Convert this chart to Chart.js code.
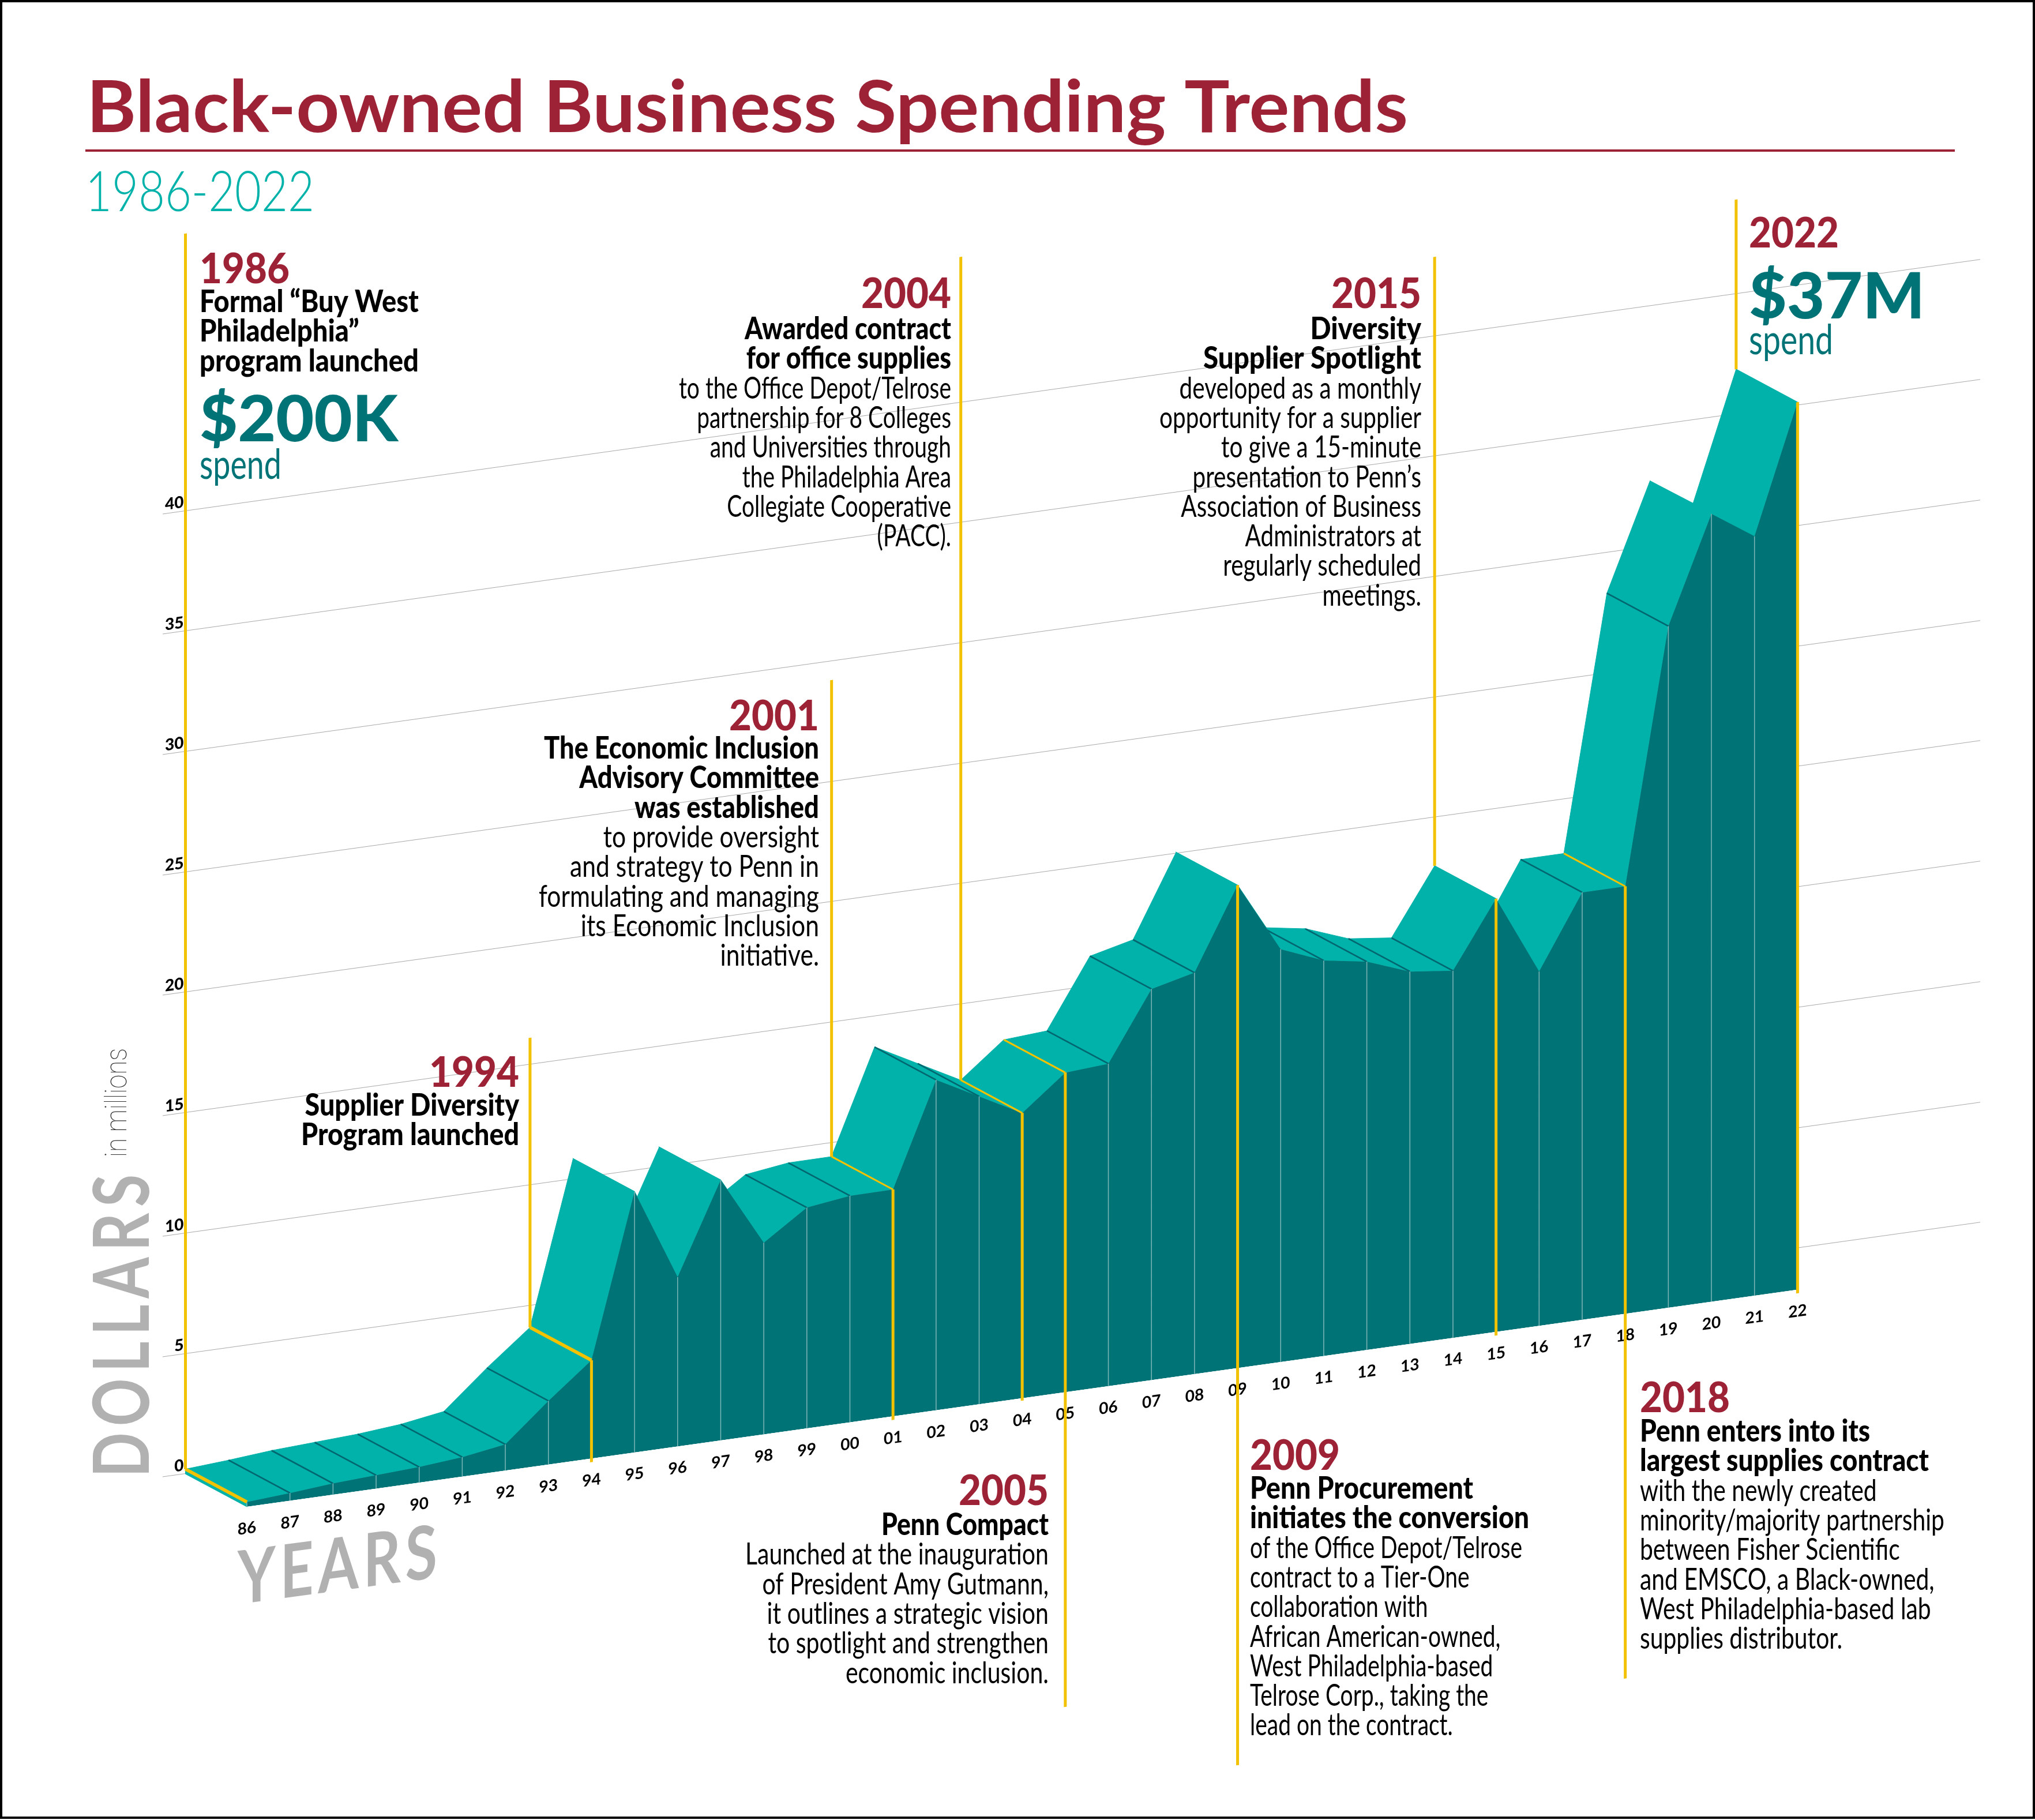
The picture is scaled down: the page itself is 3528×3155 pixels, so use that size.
<!DOCTYPE html>
<html>
<head>
<meta charset="utf-8">
<style>
  html, body { margin: 0; padding: 0; background: #fff; }
  canvas { display: block; }
</style>
<script src="https://cdn.jsdelivr.net/npm/chart.js@4"></script>
</head>
<body>
<canvas id="myChart" width="3528" height="3155"></canvas>
<script>
const years = ["86","87","88","89","90","91","92","93","94","95","96","97","98","99","00","01","02","03","04","05","06","07","08","09","10","11","12","13","14","15","16","17","18","19","20","21","22"];

const spend = [0.2,0.32,0.47,0.56,0.65,0.81,1.09,2.65,4.09,10.86,7.05,10.84,7.98,9.19,9.43,9.44,13.75,12.81,11.87,13.3,13.42,16.28,16.71,20.1,17.18,16.46,16.16,15.5,15.28,18.03,14.75,17.79,17.79,28.37,32.79,31.61,36.94];

const dollarTicks = [0,5,10,15,20,25,30,35,40];

// years whose fold across the ribbon shows as a dark line
const foldYears = ["87","88","89","90","91","92","93","99","00","02","03","06","07","08","11","12","13","14","17","19"];

// leader lines: how far each runs, in dollars on the front plane
const leaderYears = ["86","94","01","04","05","09","15","18","22"];
const leaderBackTop = [53.35,17.87,31,47.86,null,null,45.1,null,45.73];
const leaderFrontEnd = [null,-0.15,-0.15,-0.1,-13.1,-16.53,-0.15,-15.18,-0.15];
const leaderAcrossThick = ["86","94"];
const leaderAcrossThin = ["01","04","05","18"];

const RED = "#9d2235", TEAL = "#00b2a9", DARK = "#007377", YELLOW = "#f2c200", GREY = "#b1b1b1";

// ribbon depth, in years and dollars
const depthX = -1.426;
const depthY = 1.727;
const shear = -0.14;
const shearOrigin = 428;

const callouts = [
  { year: "1986", x: 346, align: "left", yearY: 491, textY: 541, boldW: 380, bold: ["Formal “Buy West", "Philadelphia”", "program launched"] },
  { year: "1994", x: 900, align: "right", yearY: 1884, textY: 1934, boldW: 378, bold: ["Supplier Diversity", "Program launched"] },
  { year: "2001", x: 1420, align: "right", yearY: 1266, textY: 1315, boldW: 477, bodyW: 486,
    bold: ["The Economic Inclusion", "Advisory Committee", "was established"],
    body: ["to provide oversight", "and strategy to Penn in", "formulating and managing", "its Economic Inclusion", "initiative."] },
  { year: "2004", x: 1649, align: "right", yearY: 534, textY: 588, boldW: 358, bodyW: 472,
    bold: ["Awarded contract", "for office supplies"],
    body: ["to the Office Depot/Telrose", "partnership for 8 Colleges", "and Universities through", "the Philadelphia Area", "Collegiate Cooperative", "(PACC)."] },
  { year: "2005", x: 1818, align: "right", yearY: 2609, textY: 2661, boldW: 290, bodyW: 526,
    bold: ["Penn Compact"],
    body: ["Launched at the inauguration", "of President Amy Gutmann,", "it outlines a strategic vision", "to spotlight and strengthen", "economic inclusion."] },
  { year: "2009", x: 2167, align: "left", yearY: 2548, textY: 2598, boldW: 484, bodyW: 472,
    bold: ["Penn Procurement", "initiates the conversion"],
    body: ["of the Office Depot/Telrose", "contract to a Tier-One", "collaboration with", "African American-owned,", "West Philadelphia-based", "Telrose Corp., taking the", "lead on the contract."] },
  { year: "2015", x: 2464, align: "right", yearY: 534, textY: 588, boldW: 378, bodyW: 454,
    bold: ["Diversity", "Supplier Spotlight"],
    body: ["developed as a monthly", "opportunity for a supplier", "to give a 15-minute", "presentation to Penn’s", "Association of Business", "Administrators at", "regularly scheduled", "meetings."] },
  { year: "2018", x: 2843, align: "left", yearY: 2448, textY: 2499, boldW: 501, bodyW: 528,
    bold: ["Penn enters into its", "largest supplies contract"],
    body: ["with the newly created", "minority/majority partnership", "between Fisher Scientific", "and EMSCO, a Black-owned,", "West Philadelphia-based lab", "supplies distributor."] },
  { year: "2022", x: 3032, align: "left", yearY: 429 },
];

const front = spend.map((v, i) => ({ x: i, y: v }));
const gap = { x: 0, y: null };

function back(i) {
  return { x: i + depthX, y: spend[i] + depthY };
}

function across(list) {
  const pts = [];
  list.forEach((label) => {
    const i = years.indexOf(label);
    pts.push(back(i), { x: i, y: spend[i] }, gap);
  });
  return pts;
}

const leaderPts = [];
leaderYears.forEach((label, k) => {
  const i = years.indexOf(label);
  if (leaderBackTop[k] !== null) {
    leaderPts.push({ x: i + depthX, y: leaderBackTop[k] }, back(i), gap);
  }
  if (leaderFrontEnd[k] !== null) {
    leaderPts.push({ x: i, y: spend[i] }, { x: i, y: leaderFrontEnd[k] }, gap);
  }
});

const ribPts = [];
spend.slice(0, -1).forEach((v, i) => {
  ribPts.push({ x: i, y: 0 }, { x: i, y: v }, gap);
});

function plainLine(data, color, width, clip) {
  return { type: "line", data, borderColor: color, borderWidth: width, pointRadius: 0, tension: 0, fill: false, clip, borderCapStyle: "butt" };
}

function fitText(ctx, text, x, y, font, color, align, sx) {
  ctx.save();
  ctx.font = font;
  ctx.fillStyle = color;
  ctx.textAlign = align;
  ctx.textBaseline = "alphabetic";
  ctx.translate(x, y);
  ctx.scale(sx, 1);
  ctx.fillText(text, 0, 0);
  ctx.restore();
}

function widthScale(ctx, lines, font, target) {
  ctx.font = font;
  return target / Math.max(...lines.map((t) => ctx.measureText(t).width));
}

const shearPlugin = {
  id: "shear",
  beforeDraw(chart) {
    const ctx = chart.ctx;
    ctx.save();
    ctx.transform(1, shear, 0, 1, 0, -shear * shearOrigin);
  },
  beforeDatasetsDraw(chart) {
    // top of the ribbon, from the front edge back to the back edge
    const ctx = chart.ctx;
    const { x, y } = chart.scales;
    const quad = (pts) => {
      ctx.beginPath();
      pts.forEach((p, k) => {
        const px = x.getPixelForValue(p.x), py = y.getPixelForValue(p.y);
        if (k === 0) ctx.moveTo(px, py); else ctx.lineTo(px, py);
      });
      ctx.closePath();
      ctx.fill();
      ctx.stroke();
    };
    ctx.save();
    ctx.fillStyle = TEAL;
    ctx.strokeStyle = TEAL;
    ctx.lineWidth = 1;
    quad([{ x: depthX, y: depthY }, { x: 0, y: 0 }, { x: 0, y: spend[0] }, back(0)]);
    for (let i = 0; i < spend.length - 1; i++) {
      quad([back(i), back(i + 1), { x: i + 1, y: spend[i + 1] }, { x: i, y: spend[i] }]);
    }
    ctx.restore();
  },
  afterDraw(chart) {
    const ctx = chart.ctx;
    ctx.restore();
    drawText(ctx);
  },
};

function drawText(ctx) {
  const BOLD = "900 54px Lato", BODY = "400 53px Lato", YEAR = "900 73px Lato";
  const lineGap = 51.3;

  ctx.save();
  ctx.strokeStyle = "#000";
  ctx.lineWidth = 4;
  ctx.strokeRect(2, 2, 3524, 3149);
  ctx.restore();

  const titleFont = "700 124px Lato";
  const title = "Black-owned Business Spending Trends";
  fitText(ctx, title, 150, 229, titleFont, RED, "left", widthScale(ctx, [title], titleFont, 2291));
  ctx.fillStyle = RED;
  ctx.fillRect(148, 259, 3241, 4);
  const subFont = "300 97px Lato";
  fitText(ctx, "1986-2022", 148, 366, subFont, TEAL, "left", widthScale(ctx, ["1986-2022"], subFont, 397));

  const yearScale = widthScale(ctx, ["2018"], YEAR, 156);
  callouts.forEach((c) => {
    fitText(ctx, c.year, c.x, c.yearY, YEAR, RED, c.align, yearScale);
    let y = c.textY;
    if (c.bold) {
      const sx = widthScale(ctx, c.bold, BOLD, c.boldW);
      c.bold.forEach((t) => { fitText(ctx, t, c.x, y, BOLD, "#000", c.align, sx); y += lineGap; });
    }
    if (c.body) {
      const sx = widthScale(ctx, c.body, BODY, c.bodyW);
      c.body.forEach((t) => { fitText(ctx, t, c.x, y, BODY, "#000", c.align, sx); y += lineGap; });
    }
  });

  const bigFont = "900 110px Lato", spendFont = "400 72px Lato";
  fitText(ctx, "$200K", 346, 765, bigFont, DARK, "left", widthScale(ctx, ["$200K"], bigFont, 344));
  fitText(ctx, "spend", 346, 830, spendFont, DARK, "left", widthScale(ctx, ["spend"], spendFont, 142));
  fitText(ctx, "$37M", 3032, 552, bigFont, DARK, "left", widthScale(ctx, ["$37M"], bigFont, 305));
  fitText(ctx, "spend", 3032, 614, spendFont, DARK, "left", widthScale(ctx, ["spend"], spendFont, 146));

  // axis names
  const dollarsFont = "700 134px Lato";
  ctx.save();
  ctx.translate(258, 2561);
  ctx.rotate(-Math.PI / 2);
  ctx.letterSpacing = "14px";
  fitText(ctx, "DOLLARS", 0, 0, dollarsFont, GREY, "left", widthScale(ctx, ["DOLLARS"], dollarsFont, 536));
  ctx.restore();

  const millionsFont = "100 52px Roboto";
  ctx.save();
  ctx.translate(219, 2006);
  ctx.rotate(-Math.PI / 2);
  fitText(ctx, "in millions", 0, 0, millionsFont, "#333", "left", widthScale(ctx, ["in millions"], millionsFont, 189));
  ctx.restore();

  const yearsFont = "700 128px Lato";
  ctx.save();
  ctx.translate(412, 2781);
  ctx.transform(1, -0.135, 0, 1, 0, 0);
  ctx.letterSpacing = "10px";
  fitText(ctx, "YEARS", 0, 0, yearsFont, GREY, "left", widthScale(ctx, ["YEARS"], yearsFont, 354));
  ctx.restore();
}

const data = {
  datasets: [
    plainLine(leaderPts, YELLOW, 5, false),
    plainLine(across(leaderAcrossThin), YELLOW, 3, false),
    plainLine(across(leaderAcrossThick), YELLOW, 5.5, false),
    plainLine(ribPts, "#7fb6b8", 1.5, false),
    {
      type: "line",
      label: "Spend",
      data: front,
      backgroundColor: DARK,
      borderWidth: 0,
      pointRadius: 0,
      tension: 0,
      fill: "origin",
    },
    plainLine(across(foldYears), "#00666f", 2.5, false),
  ],
};

const config = {
  type: "line",
  data: data,
  plugins: [shearPlugin],
  options: {
    responsive: false,
    animation: false,
    events: [],
    layout: { padding: { left: 282, right: 95, top: 870, bottom: 443 } },
    plugins: { legend: { display: false }, tooltip: { enabled: false }, title: { display: false } },
    scales: {
      x: {
        type: "linear",
        position: "bottom",
        min: -1.955,
        max: 40.24,
        afterFit: (s) => { s.height = 100; },
        afterBuildTicks: (s) => { s.ticks = years.map((_, i) => ({ value: i })); },
        grid: { display: false, drawTicks: false },
        border: { display: false },
        ticks: {
          autoSkip: false,
          maxRotation: 0,
          minRotation: 0,
          padding: 21,
          color: "#000",
          font: { family: "Lato", size: 28, weight: "700" },
          callback: (v) => years[v],
        },
      },
      y: { display: false, min: 0, max: 41.825 },
      yBack: {
        position: "left",
        min: -depthY,
        max: 40,
        afterFit: (s) => { s.width = 0; },
        afterBuildTicks: (s) => { s.ticks = dollarTicks.map((v) => ({ value: v })); },
        grid: { color: "#a8a8a8", lineWidth: 1, drawTicks: false },
        border: { display: false },
        ticks: {
          mirror: true,
          crossAlign: "far",
          padding: 4,
          labelOffset: -15,
          color: "#000",
          font: { family: "Lato", size: 28, weight: "900" },
        },
      },
    },
  },
};

const myChart = new Chart(document.getElementById("myChart"), config);
</script>
</body>
</html>
